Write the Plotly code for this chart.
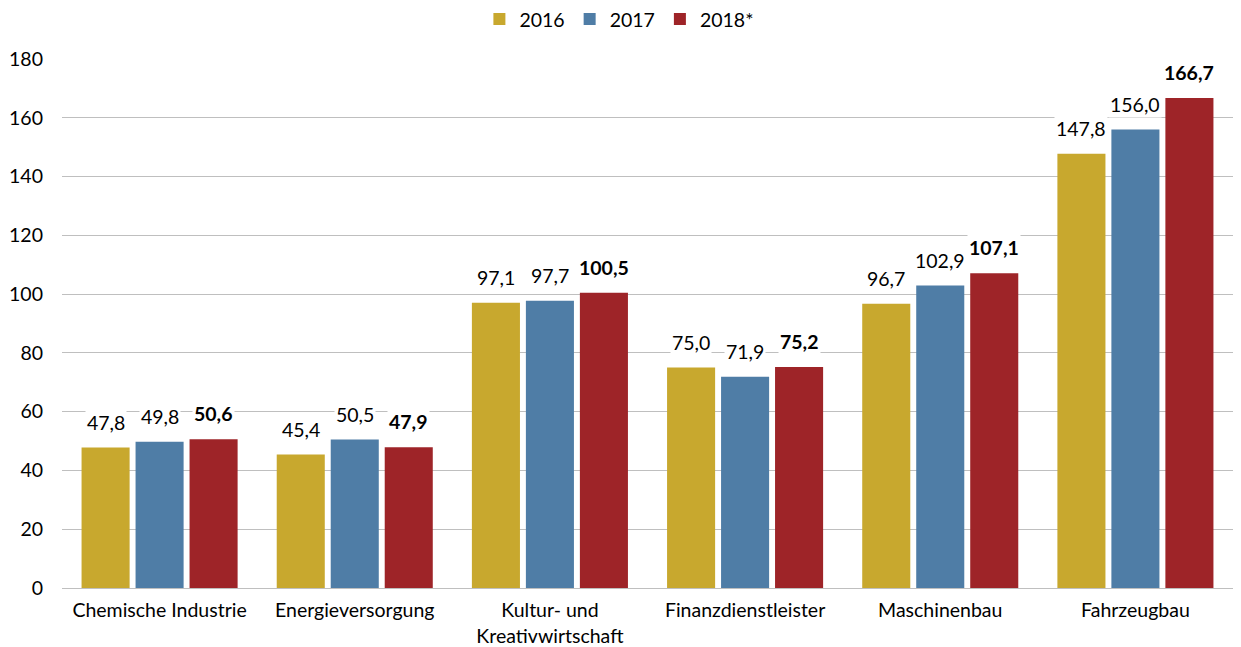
import plotly.graph_objects as go

categories = ["Chemische Industrie", "Energieversorgung", "Kultur- und<br>Kreativwirtschaft",
              "Finanzdienstleister", "Maschinenbau", "Fahrzeugbau"]
series_names = ["2016", "2017", "2018*"]
values_2016 = [47.8, 45.4, 97.1, 75.0, 96.7, 147.8]
values_2017 = [49.8, 50.5, 97.7, 71.9, 102.9, 156.0]
values_2018 = [50.6, 47.9, 100.5, 75.2, 107.1, 166.7]
y_ticks = [0, 20, 40, 60, 80, 100, 120, 140, 160, 180]

colors = ["#C8A82E", "#4F7DA6", "#9E2428"]
all_values = [values_2016, values_2017, values_2018]
FONT = "Lato"
FS = 19.5

fig = go.Figure()
for name, vals, col in zip(series_names, all_values, colors):
    fig.add_trace(go.Bar(x=categories, y=vals, name=name, marker_color=col,
                         marker_line_width=0))

annotations = []
slot = 54
for i, vals in enumerate(all_values):
    for cat, v in zip(categories, vals):
        txt = f"{v:.1f}".replace(".", ",")
        if i == 2:
            txt = f"<b>{txt}</b>"
        annotations.append(dict(x=cat, y=v, xref="x", yref="y", text=txt, showarrow=False,
                                xshift=(i - 1) * slot, yanchor="bottom", yshift=12,
                                bgcolor="white", borderpad=1,
                                font=dict(family=FONT, size=FS, color="#000000")))

fig.update_layout(
    width=1241, height=647,
    margin=dict(l=62, r=8, t=59, b=59, autoexpand=False),
    paper_bgcolor="white", plot_bgcolor="white",
    barmode="group", bargap=0.17, bargroupgap=0.11,
    font=dict(family=FONT, size=FS, color="#000000"),
    legend=dict(orientation="h", x=0.476, xanchor="center", y=1.075, yanchor="middle",
                font=dict(family=FONT, size=FS), itemwidth=30, traceorder="normal",
                tracegroupgap=0),
    annotations=annotations,
)
fig.update_yaxes(range=[0, 180], tickvals=y_ticks, showgrid=True, gridcolor="#BFBFBF",
                 gridwidth=1, zeroline=False, showline=False, ticklabelstandoff=18,
                 tickfont=dict(family=FONT, size=FS))
fig.update_xaxes(showline=True, linecolor="#BFBFBF", linewidth=1, tickfont=dict(family=FONT, size=FS),
                 ticklabelstandoff=5)

fig.write_html("out.html", config={"displayModeBar": False},
               post_script="document.body.style.margin='0';")
